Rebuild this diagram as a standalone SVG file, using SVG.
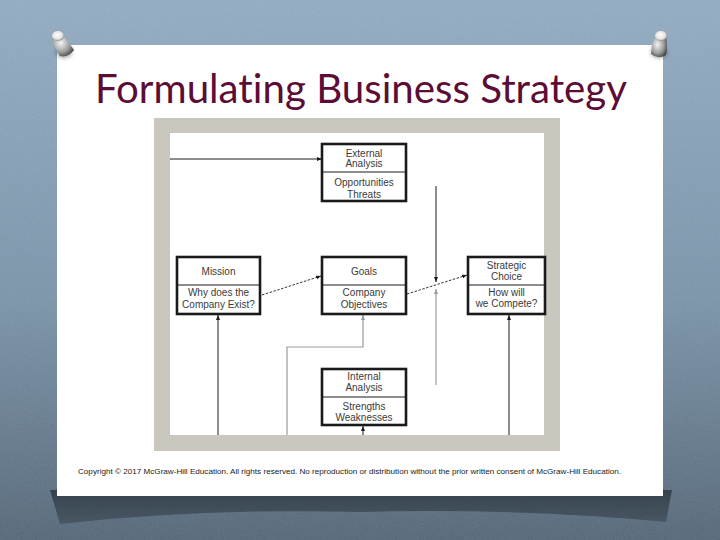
<svg xmlns="http://www.w3.org/2000/svg" width="720" height="540" viewBox="0 0 720 540">
<defs>
<linearGradient id="bg" x1="0" y1="0" x2="0" y2="1">
<stop offset="0" stop-color="#8fa8bf"/>
<stop offset="0.55" stop-color="#7891a7"/>
<stop offset="1" stop-color="#526475"/>
</linearGradient>
<linearGradient id="shadowG" x1="0" y1="0" x2="0" y2="1">
<stop offset="0" stop-color="#2e3a45"/>
<stop offset="1" stop-color="#45535f"/>
</linearGradient>
<radialGradient id="pinBody" cx="0.4" cy="0.4" r="0.7">
<stop offset="0" stop-color="#f4f4f4"/>
<stop offset="0.6" stop-color="#9a9a9a"/>
<stop offset="1" stop-color="#3a3a3a"/>
</radialGradient>
<radialGradient id="pinHead" cx="0.45" cy="0.4" r="0.6">
<stop offset="0" stop-color="#ffffff"/>
<stop offset="0.7" stop-color="#e2e2e2"/>
<stop offset="1" stop-color="#8a8a8a"/>
</radialGradient>
<filter id="noise" x="0" y="0" width="100%" height="100%">
<feTurbulence type="fractalNoise" baseFrequency="0.9" numOctaves="2" seed="3" result="n"/>
<feColorMatrix type="matrix" values="0 0 0 0 1  0 0 0 0 1  0 0 0 0 1  0 0 0 0.35 0" in="n"/>
</filter>
<filter id="blur" x="-50%" y="-50%" width="200%" height="200%">
<feGaussianBlur stdDeviation="2"/>
</filter>
<marker id="ah" viewBox="0 0 10 10" refX="10" refY="5" markerWidth="5" markerHeight="5" orient="auto" markerUnits="userSpaceOnUse">
<path d="M0,1 L10,5 L0,9 Z" fill="#1a1a1a"/>
</marker>
<marker id="ahg" viewBox="0 0 10 10" refX="10" refY="5" markerWidth="5" markerHeight="5" orient="auto" markerUnits="userSpaceOnUse">
<path d="M0,1 L10,5 L0,9 Z" fill="#9a9a9a"/>
</marker>
<style>
.box{fill:#ffffff;stroke:#1a1a1a;stroke-width:2.6}
.t{font-family:"Liberation Sans",Arial,sans-serif;font-size:10px;fill:#3a3a3a;text-anchor:middle}
.ln{fill:none;stroke:#1a1a1a;stroke-width:1}
.lg{fill:none;stroke:#9a9a9a;stroke-width:1.2}
.ld{fill:none;stroke:#333333;stroke-width:1;stroke-dasharray:2.5 1.5}
</style>
</defs>
<!-- background -->
<rect x="0" y="0" width="720" height="540" fill="url(#bg)"/>
<rect x="0" y="0" width="720" height="540" filter="url(#noise)" opacity="0.35"/>
<!-- card shadow -->
<path d="M50,490 L672,490 L666,522 Q520,508 360,512 Q200,508 60,524 Z" fill="url(#shadowG)" opacity="0.85"/>
<!-- card -->
<rect x="57" y="45" width="606" height="451" fill="#ffffff"/>
<!-- pins -->
<g id="pin-left">
<ellipse cx="64" cy="52" rx="8" ry="6" fill="#000" opacity="0.35" filter="url(#blur)"/>
<path d="M52,38 L62,34 Q70,44 74,50 Q68,58 60,56 Q54,48 52,38 Z" fill="url(#pinBody)"/>
<ellipse cx="58" cy="36" rx="6" ry="5" fill="url(#pinHead)"/>
</g>
<g id="pin-right">
<ellipse cx="659" cy="52" rx="8" ry="6" fill="#000" opacity="0.35" filter="url(#blur)"/>
<path d="M654,38 L666,36 Q668,48 666,55 Q658,60 651,54 Q651,46 654,38 Z" fill="url(#pinBody)"/>
<ellipse cx="661" cy="36" rx="6" ry="5" fill="url(#pinHead)"/>
</g>
<!-- title -->
<text x="95" y="103" font-family="Lato,'Open Sans',sans-serif" font-weight="400" font-size="40" fill="#5c0d35" style="font-variant-ligatures:none" textLength="532" lengthAdjust="spacingAndGlyphs">Formulating Business Strategy</text>
<!-- diagram frame -->
<rect x="154" y="118" width="406" height="333" fill="#c9c7be"/>
<rect x="170" y="133" width="374" height="302" fill="#ffffff"/>
<!-- connectors -->
<g id="connectors">
<line class="ln" x1="170" y1="159" x2="322" y2="159" marker-end="url(#ah)"/>
<line class="ln" x1="436" y1="186" x2="436" y2="282" marker-end="url(#ah)"/>
<line class="lg" x1="436" y1="385" x2="436" y2="289" marker-end="url(#ahg)"/>
<line class="ld" x1="262" y1="295" x2="321" y2="276" marker-end="url(#ah)"/>
<line class="ld" x1="407" y1="294" x2="467" y2="275" marker-end="url(#ah)"/>
<line class="ln" x1="218" y1="435" x2="218" y2="315" marker-end="url(#ah)"/>
<polyline class="lg" points="287,435 287,347 363,347 363,315" marker-end="url(#ahg)"/>
<line class="ln" x1="363" y1="435" x2="363" y2="426" marker-end="url(#ah)"/>
<line class="ln" x1="509" y1="435" x2="509" y2="315" marker-end="url(#ah)"/>
</g>
<!-- nodes -->
<g id="external">
<rect class="box" x="322" y="144" width="84" height="57"/>
<line class="ln" x1="322" y1="172" x2="406" y2="172" stroke-width="2.6"/>
<text class="t" x="364" y="156.5">External</text>
<text class="t" x="364" y="167">Analysis</text>
<text class="t" x="364" y="186">Opportunities</text>
<text class="t" x="364" y="197.5">Threats</text>
</g>
<g id="mission">
<rect class="box" x="177" y="257" width="83" height="57"/>
<line class="ln" x1="177" y1="285" x2="260" y2="285" stroke-width="2.6"/>
<text class="t" x="218.5" y="275">Mission</text>
<text class="t" x="218.5" y="296">Why does the</text>
<text class="t" x="218.5" y="308">Company Exist?</text>
</g>
<g id="goals">
<rect class="box" x="322" y="257" width="84" height="57"/>
<line class="ln" x1="322" y1="285" x2="406" y2="285" stroke-width="2.6"/>
<text class="t" x="364" y="275">Goals</text>
<text class="t" x="364" y="296">Company</text>
<text class="t" x="364" y="308">Objectives</text>
</g>
<g id="strategic">
<rect class="box" x="468" y="257" width="77" height="57"/>
<line class="ln" x1="468" y1="285" x2="545" y2="285" stroke-width="2.6"/>
<text class="t" x="506.5" y="268.5">Strategic</text>
<text class="t" x="506.5" y="280">Choice</text>
<text class="t" x="506.5" y="295.5">How will</text>
<text class="t" x="506.5" y="306.5">we Compete?</text>
</g>
<g id="internal">
<rect class="box" x="322" y="369" width="84" height="56"/>
<line class="ln" x1="322" y1="397" x2="406" y2="397" stroke-width="2.6"/>
<text class="t" x="364" y="380">Internal</text>
<text class="t" x="364" y="391">Analysis</text>
<text class="t" x="364" y="409.5">Strengths</text>
<text class="t" x="364" y="420.5">Weaknesses</text>
</g>
<!-- copyright -->
<text x="78" y="473.5" font-family="'Liberation Sans',Arial,sans-serif" font-size="7.5" fill="#222222" textLength="543" lengthAdjust="spacingAndGlyphs">Copyright © 2017 McGraw-Hill Education. All rights reserved. No reproduction or distribution without the prior written consent of McGraw-Hill Education.</text>
</svg>
